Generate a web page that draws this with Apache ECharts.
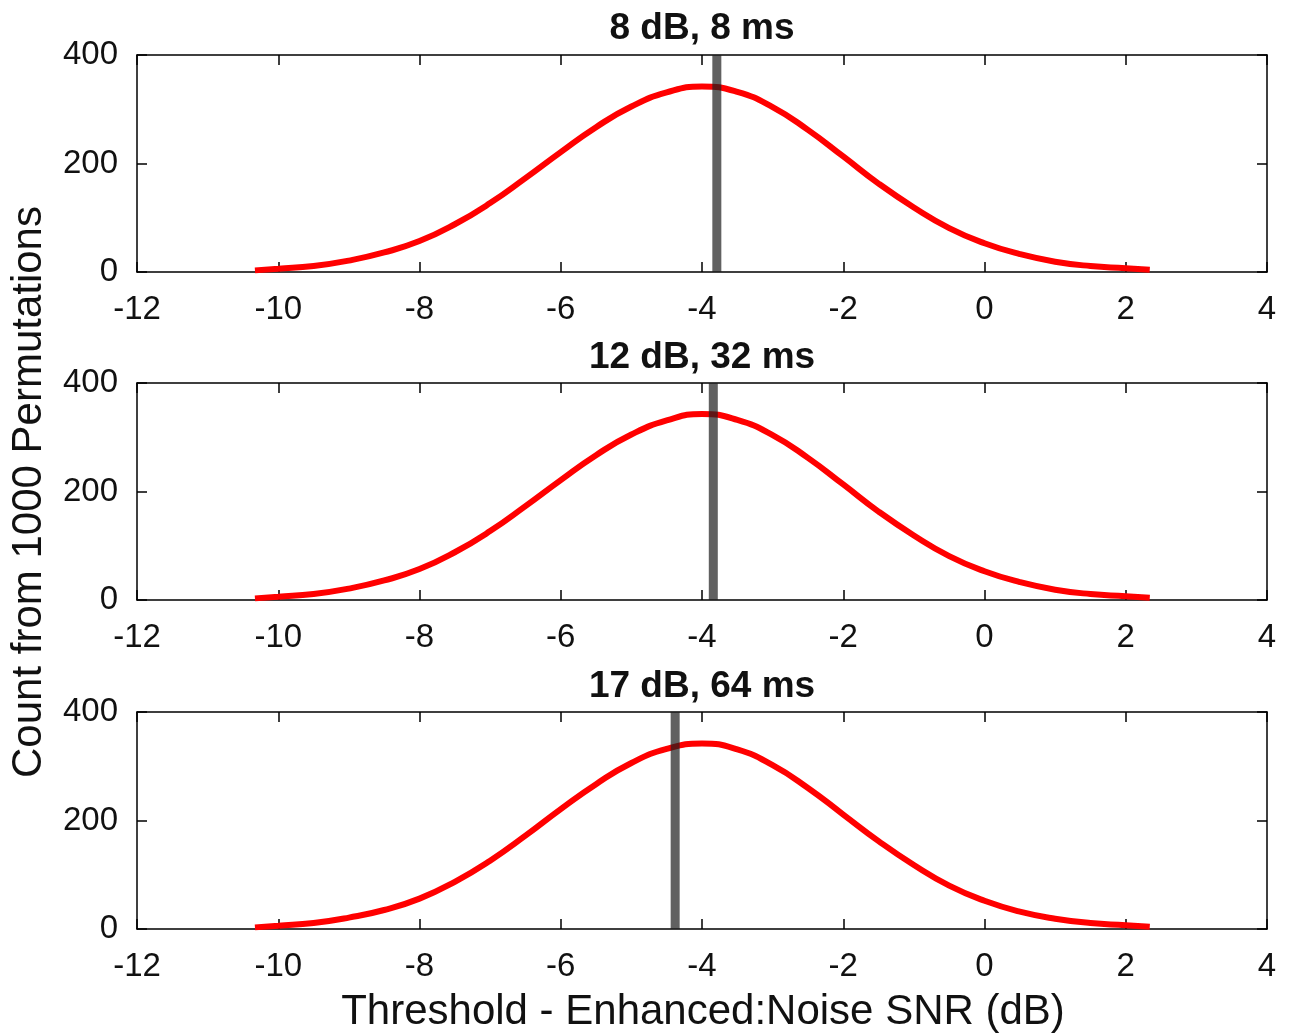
<!DOCTYPE html>
<html>
<head>
<meta charset="utf-8">
<script src="https://cdn.jsdelivr.net/npm/echarts@6/dist/echarts.min.js"></script>
<style>
html,body{margin:0;padding:0;background:#fff;}
#chart{width:1291px;height:1034px;}
</style>
</head>
<body>
<div id="chart"></div>
<script>
// ---- data ----
const panelTitles = ['8 dB, 8 ms', '12 dB, 32 ms', '17 dB, 64 ms'];
const xValues = [-10.33, -10, -9.5, -9, -8.5, -8, -7.5, -7, -6.5, -6, -5.5, -5, -4.5, -4, -3.5, -3, -2.5, -2, -1.5, -1, -0.5, 0, 0.5, 1, 1.5, 2, 2.34];
const countsPanel1 = [3, 6, 11, 21, 36, 57, 88, 127, 173, 221, 267, 305, 331, 342, 332, 304, 262, 213, 163, 119, 81, 53, 33, 19, 11, 7, 4];
const countsPanel2 = [3, 6, 11, 21, 36, 57, 88, 127, 173, 221, 267, 305, 331, 343, 332, 304, 262, 213, 163, 119, 81, 53, 33, 19, 11, 7, 4];
const countsPanel3 = [3, 6, 11, 21, 35, 56, 87, 126, 172, 221, 267, 306, 332, 342, 331, 302, 260, 211, 162, 118, 80, 52, 32, 19, 11, 7, 4];
const observedThresholds = [-3.79, -3.84, -4.38];
const xTicks = [-12, -10, -8, -6, -4, -2, 0, 2, 4];
const yTicks = [0, 200, 400];
const xLabel = 'Threshold - Enhanced:Noise SNR (dB)';
const yLabel = 'Count from 1000 Permutations';

// ---- layout ----
const FONT = '"Liberation Sans", Arial, Helvetica, sans-serif';
const panelTops = [55, 383, 712];
const panelHeight = 217;
const gridLeft = 137, gridWidth = 1130;
const titleY = [29, 358, 687];
const allCounts = [countsPanel1, countsPanel2, countsPanel3];

const grids = [], xAxes = [], yAxes = [], series = [], graphics = [];
const axisLineStyle = {color: '#000', width: 1.5};
const tickStyle = {show: true, inside: true, length: 10, lineStyle: {color: '#000', width: 1.5}};

panelTops.forEach((top, i) => {
  grids.push({left: gridLeft, top: top, width: gridWidth, height: panelHeight, containLabel: false});
  const xBase = {
    type: 'value', gridIndex: i, min: xTicks[0], max: xTicks[xTicks.length - 1], interval: 2,
    splitLine: {show: false}, axisLine: {show: true, onZero: false, lineStyle: axisLineStyle},
    axisTick: tickStyle
  };
  xAxes.push(Object.assign({}, xBase, {
    position: 'bottom',
    axisLabel: {show: true, margin: 21, fontSize: 33, color: '#111', fontFamily: FONT}
  }));
  xAxes.push(Object.assign({}, xBase, {position: 'top', axisLabel: {show: false}}));
  const yBase = {
    type: 'value', gridIndex: i, min: yTicks[0], max: yTicks[yTicks.length - 1], interval: 200,
    splitLine: {show: false}, axisLine: {show: true, onZero: false, lineStyle: axisLineStyle},
    axisTick: tickStyle
  };
  yAxes.push(Object.assign({}, yBase, {
    position: 'left',
    axisLabel: {show: true, margin: 19, fontSize: 33, color: '#111', fontFamily: FONT}
  }));
  yAxes.push(Object.assign({}, yBase, {position: 'right', axisLabel: {show: false}}));

  series.push({
    type: 'line', xAxisIndex: 2 * i, yAxisIndex: 2 * i,
    data: xValues.map((x, k) => [x, allCounts[i][k]]),
    showSymbol: false, smooth: 0.5, silent: true, z: 3,
    lineStyle: {color: '#ff0000', width: 6, cap: 'butt'}
  });
  series.push({
    type: 'line', xAxisIndex: 2 * i, yAxisIndex: 2 * i,
    data: [[observedThresholds[i], yTicks[0]], [observedThresholds[i], yTicks[yTicks.length - 1]]],
    showSymbol: false, silent: true, z: 4,
    lineStyle: {color: 'rgba(30,30,30,0.7)', width: 9, cap: 'butt'}
  });

  graphics.push({
    type: 'text', x: gridLeft + gridWidth / 2, y: titleY[i],
    style: {text: panelTitles[i], font: 'bold 37px ' + FONT, fill: '#111', textAlign: 'center', textVerticalAlign: 'middle'}
  });
});

graphics.push({
  type: 'text', x: 703, y: 1012,
  style: {text: xLabel, font: '42px ' + FONT, fill: '#111', textAlign: 'center', textVerticalAlign: 'middle'}
});
graphics.push({
  type: 'text', x: 29, y: 492, rotation: Math.PI / 2,
  style: {text: yLabel, font: '42px ' + FONT, fill: '#111', textAlign: 'center', textVerticalAlign: 'middle'}
});

const chart = echarts.init(document.getElementById('chart'), null, {renderer: 'canvas'});
chart.setOption({
  animation: false,
  backgroundColor: '#fff',
  grid: grids,
  xAxis: xAxes,
  yAxis: yAxes,
  series: series,
  graphic: graphics
});
</script>
</body>
</html>
